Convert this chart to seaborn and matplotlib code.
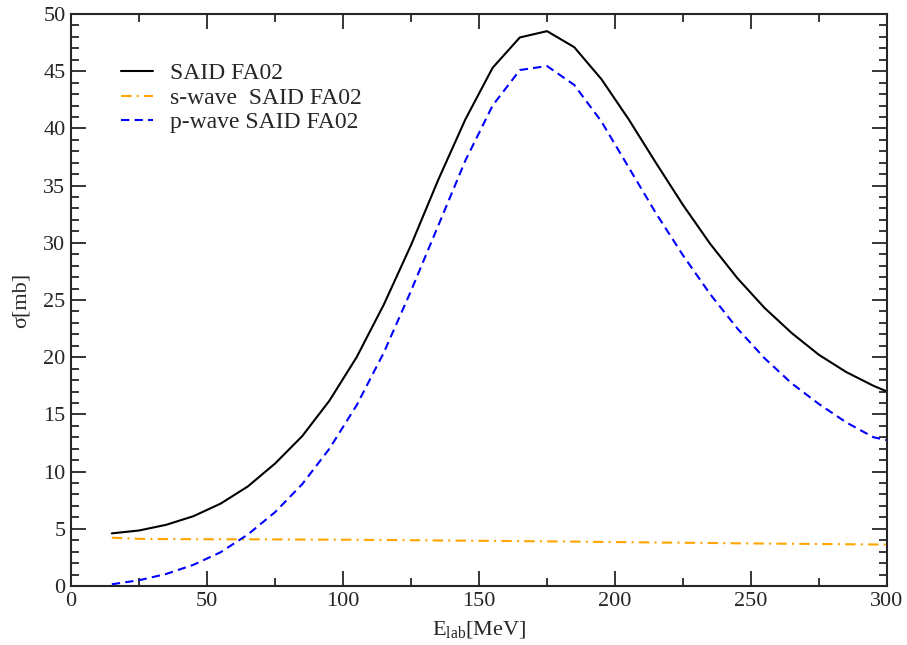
import numpy as np
import pandas as pd
import seaborn as sns
import matplotlib.pyplot as plt
from matplotlib.ticker import MultipleLocator

# energies [MeV]
e_lab = [15, 25, 35, 45, 55, 65, 75, 85, 95, 105, 115, 125, 135, 145, 155,
         165, 175, 185, 195, 205, 215, 225, 235, 245, 255, 265, 275, 285, 295, 300]

# total cross section SAID FA02 [mb]
sigma_total = [4.6, 4.85, 5.35, 6.1, 7.2, 8.7, 10.7, 13.1, 16.2, 20.0, 24.6, 29.8,
               35.5, 40.8, 45.3, 47.95, 48.5, 47.1, 44.3, 40.8, 37.0, 33.3, 29.9,
               26.9, 24.3, 22.1, 20.2, 18.7, 17.5, 17.0]

# s-wave part
sigma_s = [4.22, 4.12, 4.1, 4.09, 4.08, 4.08, 4.07, 4.06, 4.05, 4.04, 4.02, 4.0,
           3.98, 3.96, 3.94, 3.92, 3.9, 3.88, 3.85, 3.83, 3.8, 3.78, 3.76, 3.73,
           3.71, 3.69, 3.67, 3.65, 3.63, 3.62]

# p-wave part
sigma_p = [0.15, 0.5, 1.05, 1.85, 2.95, 4.5, 6.45, 8.9, 12.0, 15.8, 20.4, 25.8,
           31.5, 37.2, 42.0, 45.1, 45.45, 43.8, 40.6, 36.6, 32.6, 28.9, 25.5,
           22.5, 19.9, 17.7, 15.9, 14.3, 13.0, 12.75]

df = pd.DataFrame({"E": e_lab, "total": sigma_total, "s": sigma_s, "p": sigma_p})

sns.set_style("ticks")
plt.rcParams["font.family"] = ["Liberation Serif", "DejaVu Serif"]
plt.rcParams["mathtext.fontset"] = "custom"
plt.rcParams["mathtext.rm"] = "Liberation Serif"
plt.rcParams["mathtext.it"] = "Liberation Serif:italic"

fig = plt.figure(figsize=(9.07, 6.45), dpi=100)
ax = fig.add_axes([0.0783, 0.0915, 0.8997, 0.8868])

sns.lineplot(data=df, x="E", y="total", ax=ax, color="black", lw=1.5,
             label="SAID FA02")
sns.lineplot(data=df, x="E", y="s", ax=ax, color="#FFA500", lw=1.5,
             linestyle=(0, (5, 2.5, 1, 2.5)), label="s-wave  SAID FA02")
sns.lineplot(data=df, x="E", y="p", ax=ax, color="#0000FF", lw=1.5,
             linestyle=(0, (4, 2.5)), label="p-wave SAID FA02")

ax.set_xlim(0, 300)
ax.set_ylim(0, 50)
ax.xaxis.set_major_locator(MultipleLocator(50))
ax.xaxis.set_minor_locator(MultipleLocator(25))
ax.yaxis.set_major_locator(MultipleLocator(5))
ax.yaxis.set_minor_locator(MultipleLocator(1))
ax.tick_params(which="both", direction="in", top=True, right=True,
               width=1.3, labelsize=16, pad=4)
ax.tick_params(which="major", length=11)
ax.tick_params(which="minor", length=5.5)
for s in ax.spines.values():
    s.set_linewidth(1.5)

ax.set_xlabel(r"E$_{\mathrm{lab}}$[MeV]", fontsize=16, labelpad=6)
ax.set_ylabel("σ[mb]", fontsize=16, labelpad=9)

ax.legend(loc="upper left", bbox_to_anchor=(0.05, 0.931), frameon=False,
          fontsize=17, handlelength=1.36, handletextpad=0.72, labelspacing=0.12,
          borderaxespad=0)

fig.savefig("out.png", dpi=100)
